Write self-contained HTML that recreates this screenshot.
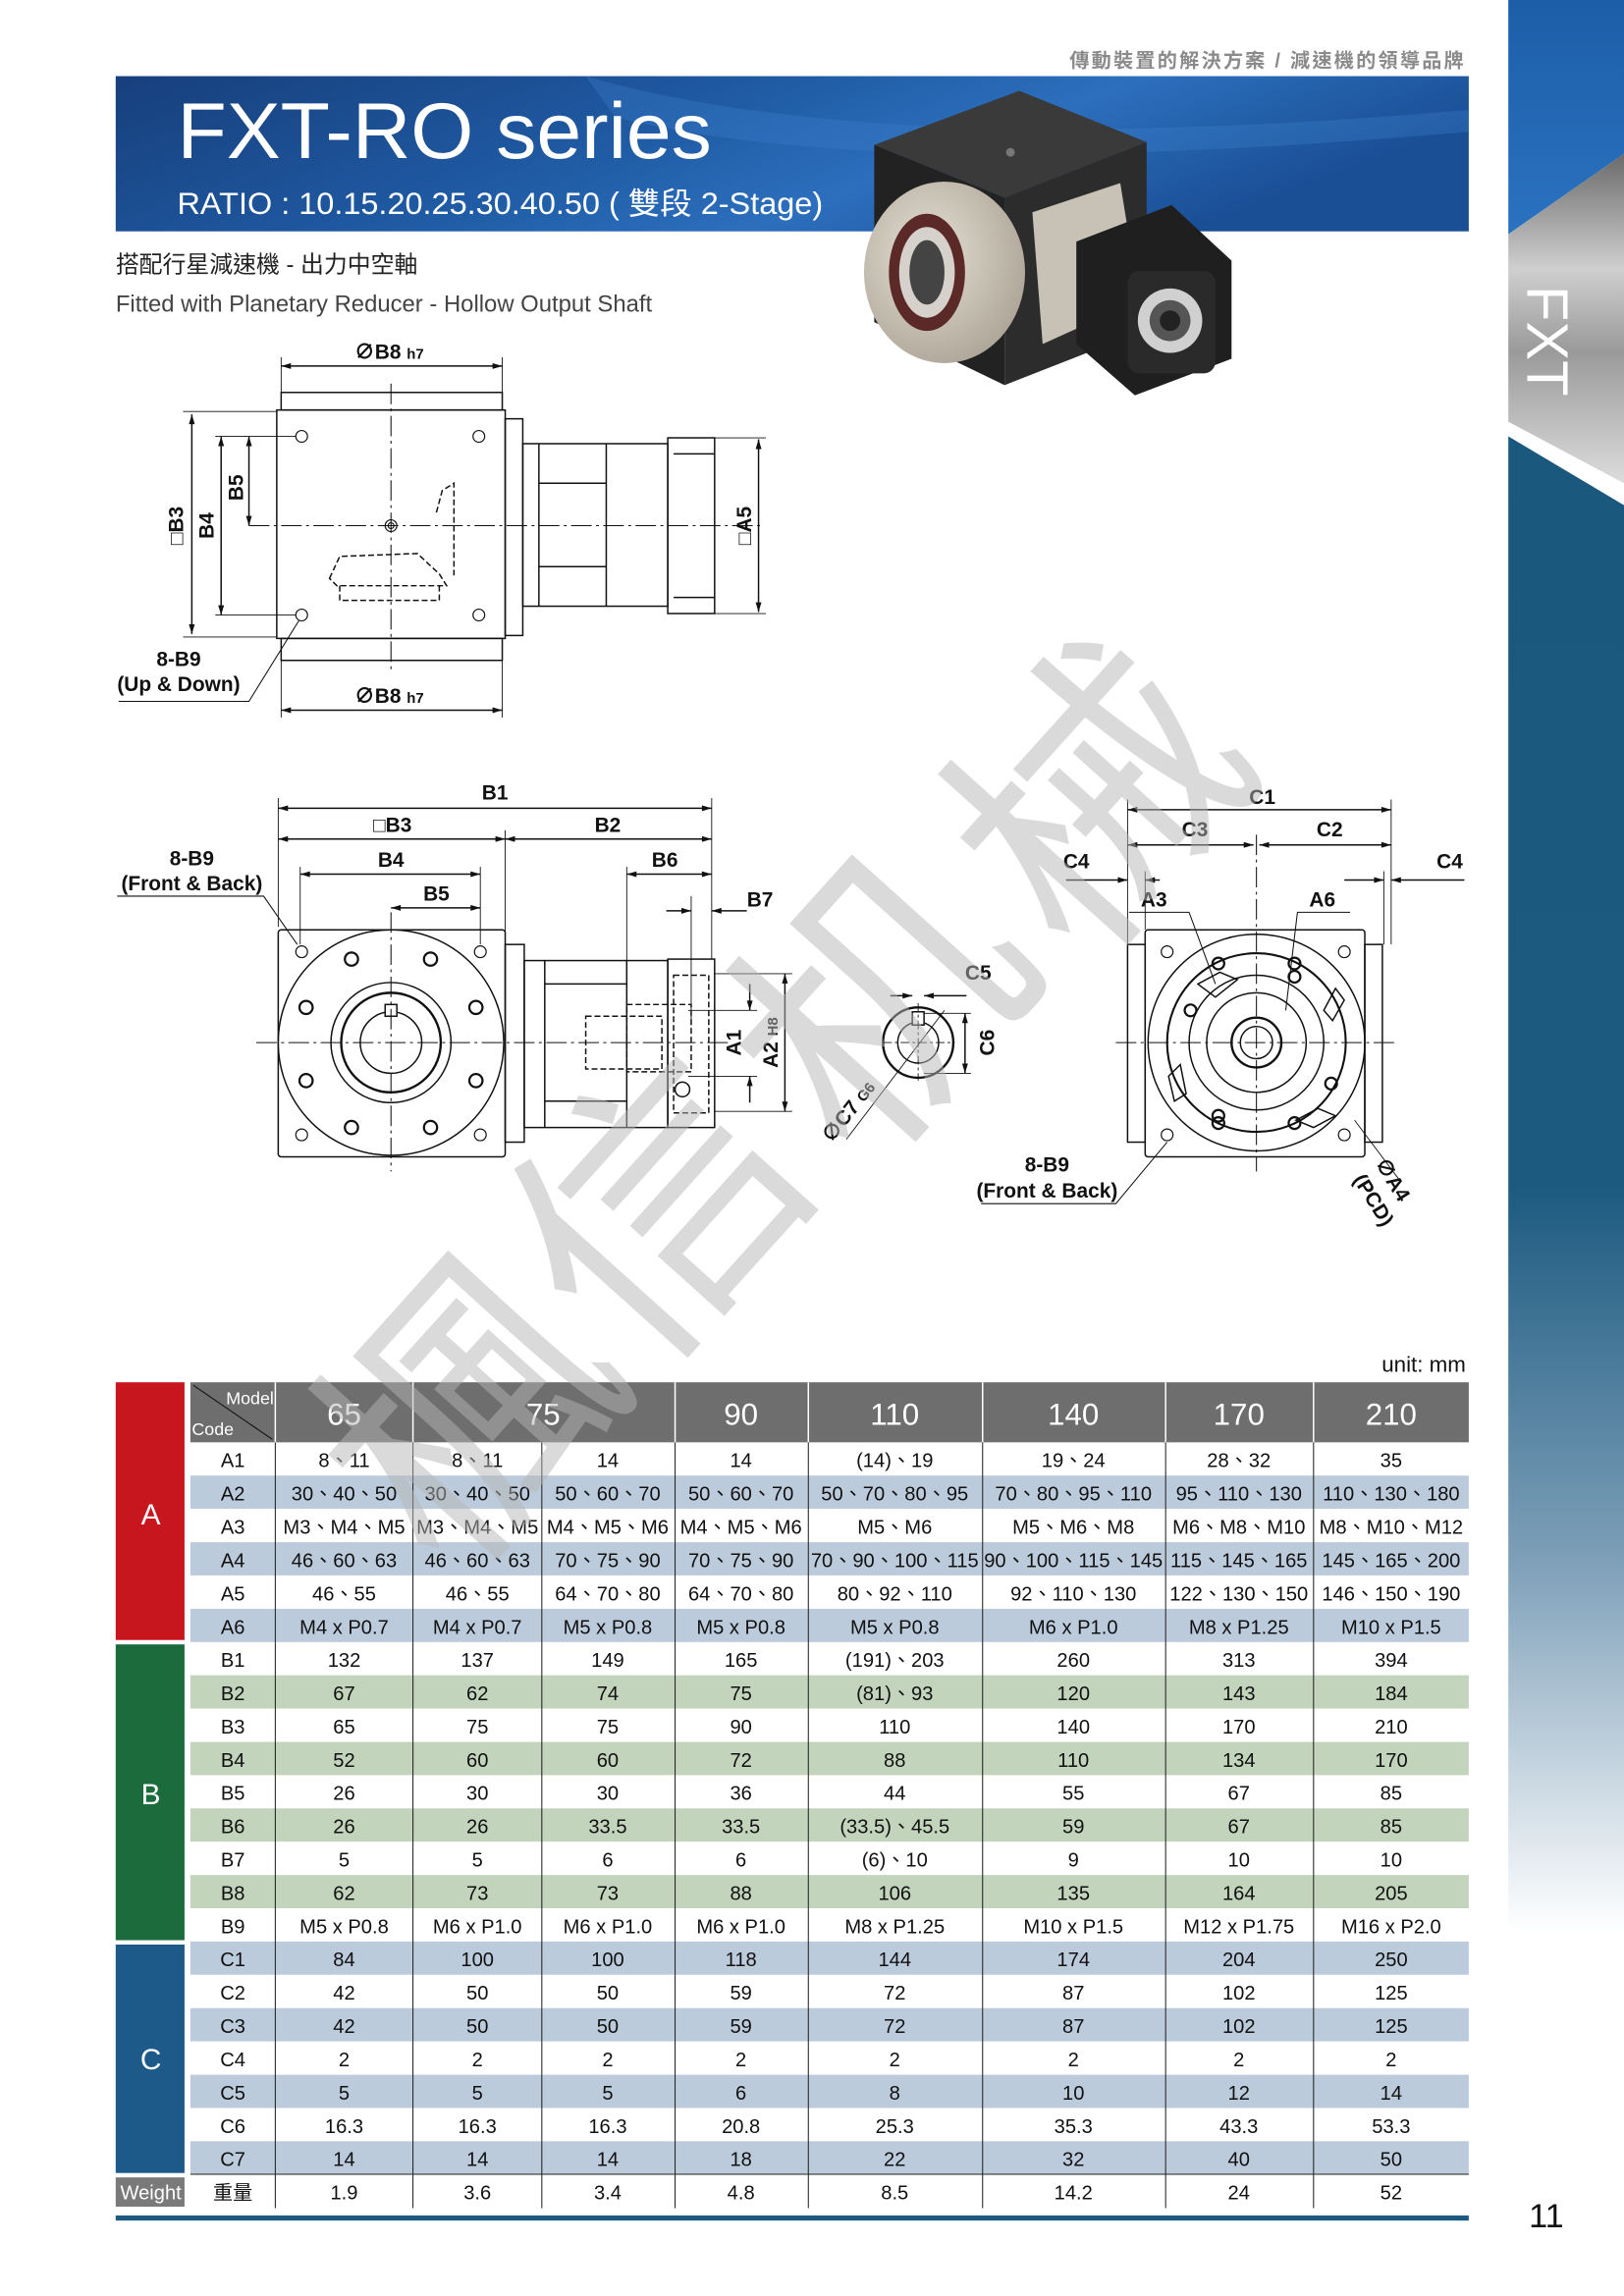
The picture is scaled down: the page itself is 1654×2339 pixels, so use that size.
<!DOCTYPE html>
<html><head><meta charset="utf-8"><style>
html,body{margin:0;padding:0;background:#fff}
svg{display:block}
text{font-family:"Liberation Sans","Noto Sans CJK TC",sans-serif}
.d text{font-weight:bold;font-size:14px;fill:#111}
.t text{font-size:13.5px;fill:#111;text-anchor:middle}
</style></head><body>
<svg width="1654" height="2339" viewBox="0 0 1109 1568" preserveAspectRatio="none" xmlns="http://www.w3.org/2000/svg">
<defs>
<linearGradient id="ban" x1="0" y1="0" x2="1" y2="0.3">
<stop offset="0" stop-color="#173f7c"/><stop offset="0.45" stop-color="#1f5aa3"/><stop offset="0.7" stop-color="#2c6fbd"/><stop offset="1" stop-color="#1a4f95"/></linearGradient>
<linearGradient id="stripTop" x1="0" y1="0" x2="0" y2="1"><stop offset="0" stop-color="#1d5ea8"/><stop offset="1" stop-color="#2a72c0"/></linearGradient>
<linearGradient id="silver" x1="0" y1="0" x2="0" y2="1"><stop offset="0" stop-color="#6a6a6a"/><stop offset="0.35" stop-color="#cfcfcf"/><stop offset="0.6" stop-color="#9a9a9a"/><stop offset="1" stop-color="#dcdcdc"/></linearGradient>
<linearGradient id="stripBot" x1="0" y1="0" x2="0" y2="1"><stop offset="0" stop-color="#1b587e"/><stop offset="0.5" stop-color="#1c5a80"/><stop offset="0.75" stop-color="#7d9fb8"/><stop offset="1" stop-color="#ffffff"/></linearGradient>
<radialGradient id="disc" cx="0.4" cy="0.4" r="0.7"><stop offset="0" stop-color="#e6e0d4"/><stop offset="1" stop-color="#a9a194"/></radialGradient>
<marker id="ar" viewBox="0 0 10 6" refX="10" refY="3" markerWidth="9" markerHeight="4" orient="auto-start-reverse" markerUnits="userSpaceOnUse"><path d="M0,0 L10,3 L0,6z" fill="#111"/></marker>
</defs>

<!-- right strip -->
<rect x="1030" y="0" width="79" height="1568" fill="#fff"/>
<polygon points="1030,0 1109,0 1109,105 1030,160" fill="url(#stripTop)"/>
<polygon points="1030,160 1109,105 1109,330 1030,288" fill="url(#silver)"/>
<polygon points="1030,290 1109,336 1109,345 1030,298" fill="#fff"/>
<polygon points="1030,298 1109,345 1109,1320 1030,1320" fill="url(#stripBot)"/>
<text transform="translate(1043,195) rotate(90)" font-size="40" fill="#fff" style="font-family:'Liberation Sans',sans-serif">FXT</text>

<!-- tagline -->
<text x="1001" y="46" font-size="13.5" font-weight="bold" fill="#8a8a8a" text-anchor="end" letter-spacing="1.5">傳動裝置的解決方案 / 減速機的領導品牌</text>

<!-- banner -->
<rect x="79" y="52" width="924" height="106" fill="url(#ban)"/>
<path d="M400,52 Q600,110 1003,75 L1003,90 Q600,125 420,80z" fill="#3b7fcc" opacity="0.35"/>
<text x="121" y="108" font-size="54" fill="#fff" textLength="365" lengthAdjust="spacingAndGlyphs">FXT-RO series</text>
<text x="121" y="146" font-size="21" fill="#fff" textLength="441" lengthAdjust="spacingAndGlyphs">RATIO : 10.15.20.25.30.40.50 ( 雙段 2-Stage)</text>

<!-- product -->
<g>
<polygon points="597,99 696,62 783,97 686,135" fill="#3a3a3a"/>
<polygon points="597,99 686,135 686,263 597,220" fill="#222"/>
<polygon points="686,135 783,97 783,225 686,263" fill="#2c2c2c"/>
<circle cx="690" cy="104" r="3" fill="#777"/>
<ellipse cx="645" cy="186" rx="55" ry="62" fill="url(#disc)"/>
<ellipse cx="633" cy="186" rx="26" ry="40" fill="#5b2a28"/>
<ellipse cx="633" cy="186" rx="19" ry="31" fill="#d6d2cb"/>
<ellipse cx="633" cy="186" rx="12" ry="22" fill="#444"/>
<polygon points="705,145 765,125 778,205 712,235" fill="#c8c2b6"/>
<polygon points="735,165 800,140 841,178 841,245 775,270 735,235" fill="#1f1f1f"/>
<rect x="770" y="185" width="60" height="70" rx="8" fill="#2a2a2a"/>
<circle cx="799" cy="219" r="22" fill="#d0d0d0"/>
<circle cx="799" cy="219" r="14" fill="#555"/>
<circle cx="799" cy="219" r="7" fill="#222"/>
</g>

<text x="79" y="186" font-size="16" fill="#222">搭配行星減速機 - 出力中空軸</text>
<text x="79" y="213" font-size="16" fill="#444">Fitted with Planetary Reducer - Hollow Output Shaft</text>

<!-- drawing 1 -->
<g class="d" stroke="#111" fill="none" stroke-width="1">
<rect x="192" y="268" width="151" height="12"/>
<rect x="189" y="280" width="156" height="156"/>
<rect x="192" y="436" width="151" height="15"/>
<rect x="345" y="286" width="12" height="148"/>
<rect x="357" y="303" width="99" height="111"/>
<line x1="368" y1="303" x2="368" y2="414"/><line x1="414" y1="303" x2="414" y2="414"/>
<line x1="368" y1="330" x2="414" y2="330"/><line x1="368" y1="387" x2="414" y2="387"/>
<rect x="456" y="299" width="32" height="120"/>
<line x1="460" y1="310" x2="488" y2="310"/><line x1="460" y1="408" x2="488" y2="408"/>
<g stroke-width="0.8">
<circle cx="206" cy="298" r="4"/><circle cx="327" cy="298" r="4"/><circle cx="206" cy="420" r="4"/><circle cx="327" cy="420" r="4"/>
<circle cx="267" cy="359" r="4"/><circle cx="267" cy="359" r="2"/>
</g>
<path d="M225,395 L232,380 L285,378 L300,392 L305,400 L230,400z M232,400 L232,410 L300,410 L300,400" stroke-dasharray="4,2"/>
<path d="M298,350 L302,335 L310,330 L310,395" stroke-dasharray="4,2"/>
<line x1="170" y1="359" x2="520" y2="359" stroke-dasharray="14,3,2,3" stroke-width="0.7"/>
<line x1="267" y1="262" x2="267" y2="460" stroke-dasharray="14,3,2,3" stroke-width="0.7"/>
<line x1="192" y1="250" x2="343" y2="250" marker-start="url(#ar)" marker-end="url(#ar)"/>
<line x1="192" y1="244" x2="192" y2="268" stroke-width="0.6"/><line x1="343" y1="244" x2="343" y2="268" stroke-width="0.6"/>
<line x1="192" y1="485" x2="343" y2="485" marker-start="url(#ar)" marker-end="url(#ar)"/>
<line x1="192" y1="451" x2="192" y2="490" stroke-width="0.6"/><line x1="343" y1="451" x2="343" y2="490" stroke-width="0.6"/>
<line x1="131" y1="283" x2="131" y2="433" marker-start="url(#ar)" marker-end="url(#ar)"/>
<line x1="125" y1="281" x2="189" y2="281" stroke-width="0.6"/><line x1="125" y1="435" x2="189" y2="435" stroke-width="0.6"/>
<line x1="151" y1="298" x2="151" y2="420" marker-start="url(#ar)" marker-end="url(#ar)"/>
<line x1="147" y1="298" x2="202" y2="298" stroke-width="0.6"/><line x1="147" y1="420" x2="202" y2="420" stroke-width="0.6"/>
<line x1="170" y1="298" x2="170" y2="359" marker-start="url(#ar)" marker-end="url(#ar)"/>
<line x1="518" y1="300" x2="518" y2="418" marker-start="url(#ar)" marker-end="url(#ar)"/>
<line x1="488" y1="299" x2="523" y2="299" stroke-width="0.6"/><line x1="488" y1="419" x2="523" y2="419" stroke-width="0.6"/>
<polyline points="81,479 170,479 204,424" stroke-width="0.7"/>
</g>
<g class="d">
<text x="242" y="245" font-size="13">∅B8 <tspan font-size="10">h7</tspan></text>
<text x="242" y="480" font-size="13">∅B8 <tspan font-size="10">h7</tspan></text>
<text transform="translate(125,359) rotate(-90)" text-anchor="middle">□B3</text>
<text transform="translate(146,359) rotate(-90)" text-anchor="middle">B4</text>
<text transform="translate(166,333) rotate(-90)" text-anchor="middle">B5</text>
<text transform="translate(513,359) rotate(-90)" text-anchor="middle">□A5</text>
<text x="122" y="455" text-anchor="middle">8-B9</text>
<text x="122" y="472" text-anchor="middle" font-size="12.5">(Up &amp; Down)</text>
</g>

<!-- drawing 2 -->
<g class="d" stroke="#111" fill="none" stroke-width="1">
<rect x="190" y="635" width="155" height="155" rx="2"/>
<rect x="345" y="645" width="13" height="135"/>
<rect x="358" y="656" width="98" height="114"/>
<line x1="372" y1="656" x2="372" y2="770"/><line x1="428" y1="656" x2="428" y2="770"/>
<line x1="372" y1="672" x2="428" y2="672"/><line x1="372" y1="752" x2="428" y2="752"/>
<rect x="456" y="655" width="32" height="115"/>
<rect x="460" y="666" width="24" height="94" stroke-dasharray="4,2"/>
<rect x="400" y="694" width="52" height="36" stroke-dasharray="4,2"/>
<rect x="428" y="686" width="44" height="46" stroke-dasharray="4,2"/>
<circle cx="466" cy="744" r="5"/>
<ellipse cx="267" cy="712" rx="77" ry="77"/>
<circle cx="267" cy="712" r="41"/><circle cx="267" cy="712" r="34" stroke-width="1.6"/><circle cx="267" cy="712" r="21"/>
<rect x="263" y="686" width="8" height="8" fill="#fff"/>
<g stroke-width="0.8"><circle cx="206" cy="650" r="4"/><circle cx="328" cy="650" r="4"/><circle cx="206" cy="775" r="4"/><circle cx="328" cy="775" r="4"/></g>
<g stroke-width="1.5">
<circle cx="240" cy="655" r="4.5"/><circle cx="294" cy="655" r="4.5"/><circle cx="209" cy="688" r="4.5"/><circle cx="325" cy="688" r="4.5"/>
<circle cx="209" cy="738" r="4.5"/><circle cx="325" cy="738" r="4.5"/><circle cx="240" cy="770" r="4.5"/><circle cx="294" cy="770" r="4.5"/>
</g>
<line x1="175" y1="712" x2="498" y2="712" stroke-dasharray="14,3,2,3" stroke-width="0.7"/>
<line x1="267" y1="623" x2="267" y2="800" stroke-dasharray="14,3,2,3" stroke-width="0.7"/>
<line x1="190" y1="552" x2="486" y2="552" marker-start="url(#ar)" marker-end="url(#ar)"/>
<line x1="190" y1="573" x2="345" y2="573" marker-start="url(#ar)" marker-end="url(#ar)"/>
<line x1="345" y1="573" x2="486" y2="573" marker-start="url(#ar)" marker-end="url(#ar)"/>
<line x1="205" y1="597" x2="328" y2="597" marker-start="url(#ar)" marker-end="url(#ar)"/>
<line x1="267" y1="620" x2="328" y2="620" marker-start="url(#ar)" marker-end="url(#ar)"/>
<line x1="428" y1="597" x2="486" y2="597" marker-start="url(#ar)" marker-end="url(#ar)"/>
<line x1="455" y1="622" x2="472" y2="622" marker-end="url(#ar)"/><line x1="510" y1="622" x2="486" y2="622" marker-end="url(#ar)"/>
<g stroke-width="0.6">
<line x1="190" y1="545" x2="190" y2="633"/><line x1="486" y1="545" x2="486" y2="655"/><line x1="345" y1="567" x2="345" y2="643"/>
<line x1="205" y1="592" x2="205" y2="645"/><line x1="328" y1="592" x2="328" y2="645"/><line x1="428" y1="592" x2="428" y2="690"/>
<line x1="472" y1="612" x2="472" y2="700"/>
<line x1="488" y1="665" x2="541" y2="665"/><line x1="488" y1="759" x2="541" y2="759"/>
<line x1="470" y1="690" x2="517" y2="690"/><line x1="470" y1="735" x2="517" y2="735"/>
</g>
<line x1="512" y1="672" x2="512" y2="690" marker-end="url(#ar)"/><line x1="512" y1="753" x2="512" y2="735" marker-end="url(#ar)"/>
<line x1="536" y1="665" x2="536" y2="759" marker-start="url(#ar)" marker-end="url(#ar)"/>
<polyline points="80,612 180,612 203,645" stroke-width="0.7"/>
<circle cx="627" cy="712" r="24" stroke-width="1.6"/><circle cx="627" cy="712" r="14"/>
<rect x="623" y="691" width="8" height="9" fill="#fff"/>
<line x1="603" y1="712" x2="652" y2="712" stroke-dasharray="6,2,2,2" stroke-width="0.6"/>
<line x1="627" y1="685" x2="627" y2="738" stroke-dasharray="6,2,2,2" stroke-width="0.6"/>
<line x1="608" y1="680" x2="623" y2="680" marker-end="url(#ar)"/><line x1="660" y1="680" x2="631" y2="680" marker-end="url(#ar)"/>
<line x1="631" y1="692" x2="663" y2="692" stroke-width="0.6"/><line x1="631" y1="733" x2="663" y2="733" stroke-width="0.6"/>
<line x1="659" y1="692" x2="659" y2="733" marker-start="url(#ar)" marker-end="url(#ar)"/>
<line x1="578" y1="778" x2="645" y2="690" stroke-width="0.6"/>
</g>
<g class="d">
<text x="338" y="546" text-anchor="middle">B1</text>
<text x="268" y="568" text-anchor="middle">□B3</text>
<text x="415" y="568" text-anchor="middle">B2</text>
<text x="267" y="592" text-anchor="middle">B4</text>
<text x="298" y="615" text-anchor="middle">B5</text>
<text x="454" y="592" text-anchor="middle">B6</text>
<text x="519" y="619" text-anchor="middle">B7</text>
<text x="131" y="591" text-anchor="middle">8-B9</text>
<text x="131" y="608" text-anchor="middle" font-size="12.5">(Front &amp; Back)</text>
<text transform="translate(506,712) rotate(-90)" text-anchor="middle">A1</text>
<text transform="translate(531,712) rotate(-90)" text-anchor="middle">A2 <tspan font-size="10">H8</tspan></text>
<text x="668" y="669" text-anchor="middle">C5</text>
<text transform="translate(679,712) rotate(-90)" text-anchor="middle">C6</text>
<text transform="translate(583,762) rotate(-52)" text-anchor="middle">∅C7 <tspan font-size="10">G6</tspan></text>
</g>

<!-- drawing 3 -->
<g class="d" stroke="#111" fill="none" stroke-width="1">
<rect x="770" y="645" width="12" height="135"/><rect x="932" y="645" width="12" height="135"/>
<rect x="782" y="635" width="150" height="155" rx="2"/>
<circle cx="858" cy="712" r="74"/><circle cx="858" cy="712" r="61" stroke-width="1.4"/>
<circle cx="858" cy="712" r="46"/><circle cx="858" cy="712" r="34"/><circle cx="858" cy="712" r="17" stroke-width="1.6"/><circle cx="858" cy="712" r="11"/>
<g stroke-width="0.8"><circle cx="797" cy="650" r="4"/><circle cx="918" cy="650" r="4"/><circle cx="797" cy="775" r="4"/><circle cx="918" cy="775" r="4"/></g>
<g stroke-width="1.5"><circle cx="832" cy="658" r="4"/><circle cx="884" cy="658" r="4"/><circle cx="884" cy="667" r="4"/><circle cx="813" cy="690" r="4"/><circle cx="909" cy="740" r="4"/><circle cx="832" cy="762" r="4"/><circle cx="832" cy="767" r="4"/><circle cx="884" cy="767" r="4"/></g>
<path d="M818,672 l15,-8 l12,5 l-15,12z M904,690 l8,-15 l6,8 l-8,14z M798,735 l8,-8 l4,20 l-8,5z M885,765 l15,-8 l12,5 l-15,8z"/>
<line x1="762" y1="712" x2="955" y2="712" stroke-dasharray="14,3,2,3" stroke-width="0.7"/>
<line x1="858" y1="570" x2="858" y2="800" stroke-dasharray="14,3,2,3" stroke-width="0.7"/>
<line x1="770" y1="553" x2="950" y2="553" marker-start="url(#ar)" marker-end="url(#ar)"/>
<line x1="770" y1="577" x2="856" y2="577" marker-start="url(#ar)" marker-end="url(#ar)"/>
<line x1="860" y1="577" x2="950" y2="577" marker-start="url(#ar)" marker-end="url(#ar)"/>
<g stroke-width="0.6"><line x1="770" y1="546" x2="770" y2="645"/><line x1="950" y1="546" x2="950" y2="645"/><line x1="782" y1="595" x2="782" y2="635"/><line x1="945" y1="595" x2="945" y2="645"/></g>
<line x1="728" y1="601" x2="770" y2="601" marker-end="url(#ar)"/><line x1="792" y1="601" x2="782" y2="601" marker-end="url(#ar)"/>
<line x1="918" y1="601" x2="945" y2="601" marker-end="url(#ar)"/><line x1="1000" y1="601" x2="950" y2="601" marker-end="url(#ar)"/>
<polyline points="771,623 812,623 830,672" stroke-width="0.7"/>
<polyline points="922,623 886,623 878,690" stroke-width="0.7"/>
<polyline points="670,822 762,822 797,780" stroke-width="0.7"/>
<line x1="925" y1="765" x2="955" y2="805" stroke-width="0.6"/>
</g>
<g class="d">
<text x="862" y="549" text-anchor="middle">C1</text>
<text x="816" y="571" text-anchor="middle">C3</text>
<text x="908" y="571" text-anchor="middle">C2</text>
<text x="735" y="593" text-anchor="middle">C4</text>
<text x="990" y="593" text-anchor="middle">C4</text>
<text x="788" y="619" text-anchor="middle">A3</text>
<text x="903" y="619" text-anchor="middle">A6</text>
<text x="715" y="800" text-anchor="middle">8-B9</text>
<text x="715" y="818" text-anchor="middle" font-size="12.5">(Front &amp; Back)</text>
<text transform="translate(947,808) rotate(58)" text-anchor="middle">∅A4</text>
<text transform="translate(934,822) rotate(58)" text-anchor="middle" font-size="12.5">(PCD)</text>
</g>

<!-- TABLE -->
<text x="1001" y="937" font-size="15" fill="#111" text-anchor="end">unit: mm</text>
<rect x="130" y="944" width="873" height="41" fill="#6e6e6e"/>
<g stroke="#fff" stroke-width="1"><line x1="188" y1="944" x2="188" y2="985"/><line x1="282" y1="944" x2="282" y2="985"/><line x1="461" y1="944" x2="461" y2="985"/><line x1="552" y1="944" x2="552" y2="985"/><line x1="671" y1="944" x2="671" y2="985"/><line x1="796" y1="944" x2="796" y2="985"/><line x1="897" y1="944" x2="897" y2="985"/>
<line x1="132" y1="946" x2="186" y2="983" stroke="#111" stroke-width="0.7"/></g>
<g fill="#fff" font-size="21" text-anchor="middle">
<text x="235" y="973">65</text><text x="371" y="973">75</text><text x="506" y="973">90</text><text x="611" y="973">110</text><text x="733" y="973">140</text><text x="846" y="973">170</text><text x="950" y="973">210</text></g>
<text x="187" y="959" font-size="12" fill="#fff" text-anchor="end">Model</text>
<text x="131" y="980" font-size="12" fill="#fff">Code</text>

<rect x="79" y="944" width="47" height="176" fill="#c8161e"/>
<rect x="79" y="1123" width="47" height="202" fill="#1b6b3d"/>
<rect x="79" y="1328" width="47" height="156" fill="#1d5a8a"/>
<rect x="79" y="1487" width="47" height="20" fill="#7a7a7a"/>
<g fill="#fff" font-size="20" text-anchor="middle"><text x="103" y="1041">A</text><text x="103" y="1232">B</text><text x="103" y="1413">C</text></g>
<text x="103" y="1502" font-size="13.5" fill="#fff" text-anchor="middle">Weight</text>

<g fill="#bccbdc">
<rect x="130" y="1007.7" width="873" height="22.7"/><rect x="130" y="1053.2" width="873" height="22.7"/><rect x="130" y="1098.7" width="873" height="22.7"/>
<rect x="130" y="1325.9" width="873" height="22.7"/><rect x="130" y="1371.4" width="873" height="22.7"/><rect x="130" y="1416.9" width="873" height="22.7"/><rect x="130" y="1462.3" width="873" height="22.7"/>
</g>
<g fill="#c3d4bc">
<rect x="130" y="1144.1" width="873" height="22.7"/><rect x="130" y="1189.6" width="873" height="22.7"/><rect x="130" y="1235" width="873" height="22.7"/><rect x="130" y="1280.5" width="873" height="22.7"/>
</g>
<g stroke="#222" stroke-width="0.7">
<line x1="188" y1="985" x2="188" y2="1508"/><line x1="282" y1="985" x2="282" y2="1508"/><line x1="370" y1="985" x2="370" y2="1508"/><line x1="461" y1="985" x2="461" y2="1508"/><line x1="552" y1="985" x2="552" y2="1508"/><line x1="671" y1="985" x2="671" y2="1508"/><line x1="796" y1="985" x2="796" y2="1508"/><line x1="897" y1="985" x2="897" y2="1508"/>
<line x1="130" y1="1484.9" x2="1003" y2="1484.9"/>
</g>
<rect x="79" y="1513" width="924" height="3.5" fill="#1d5a80"/>
<text x="1056" y="1521" font-size="23" fill="#111" text-anchor="middle">11</text>

<g class="t">
<g transform="translate(0,985)"><text x="159" y="17">A1</text><text x="235" y="17">8、11</text><text x="326" y="17">8、11</text><text x="415" y="17">14</text><text x="506" y="17">14</text><text x="611" y="17">(14)、19</text><text x="733" y="17">19、24</text><text x="846" y="17">28、32</text><text x="950" y="17">35</text></g>
<g transform="translate(0,1007.7)"><text x="159" y="17">A2</text><text x="235" y="17">30、40、50</text><text x="326" y="17">30、40、50</text><text x="415" y="17">50、60、70</text><text x="506" y="17">50、60、70</text><text x="611" y="17">50、70、80、95</text><text x="733" y="17">70、80、95、110</text><text x="846" y="17">95、110、130</text><text x="950" y="17">110、130、180</text></g>
<g transform="translate(0,1030.5)"><text x="159" y="17">A3</text><text x="235" y="17">M3、M4、M5</text><text x="326" y="17">M3、M4、M5</text><text x="415" y="17">M4、M5、M6</text><text x="506" y="17">M4、M5、M6</text><text x="611" y="17">M5、M6</text><text x="733" y="17">M5、M6、M8</text><text x="846" y="17">M6、M8、M10</text><text x="950" y="17">M8、M10、M12</text></g>
<g transform="translate(0,1053.2)"><text x="159" y="17">A4</text><text x="235" y="17">46、60、63</text><text x="326" y="17">46、60、63</text><text x="415" y="17">70、75、90</text><text x="506" y="17">70、75、90</text><text x="611" y="17">70、90、100、115</text><text x="733" y="17">90、100、115、145</text><text x="846" y="17">115、145、165</text><text x="950" y="17">145、165、200</text></g>
<g transform="translate(0,1075.9)"><text x="159" y="17">A5</text><text x="235" y="17">46、55</text><text x="326" y="17">46、55</text><text x="415" y="17">64、70、80</text><text x="506" y="17">64、70、80</text><text x="611" y="17">80、92、110</text><text x="733" y="17">92、110、130</text><text x="846" y="17">122、130、150</text><text x="950" y="17">146、150、190</text></g>
<g transform="translate(0,1098.7)"><text x="159" y="17">A6</text><text x="235" y="17">M4 x P0.7</text><text x="326" y="17">M4 x P0.7</text><text x="415" y="17">M5 x P0.8</text><text x="506" y="17">M5 x P0.8</text><text x="611" y="17">M5 x P0.8</text><text x="733" y="17">M6 x P1.0</text><text x="846" y="17">M8 x P1.25</text><text x="950" y="17">M10 x P1.5</text></g>
<g transform="translate(0,1121.4)"><text x="159" y="17">B1</text><text x="235" y="17">132</text><text x="326" y="17">137</text><text x="415" y="17">149</text><text x="506" y="17">165</text><text x="611" y="17">(191)、203</text><text x="733" y="17">260</text><text x="846" y="17">313</text><text x="950" y="17">394</text></g>
<g transform="translate(0,1144.1)"><text x="159" y="17">B2</text><text x="235" y="17">67</text><text x="326" y="17">62</text><text x="415" y="17">74</text><text x="506" y="17">75</text><text x="611" y="17">(81)、93</text><text x="733" y="17">120</text><text x="846" y="17">143</text><text x="950" y="17">184</text></g>
<g transform="translate(0,1166.8)"><text x="159" y="17">B3</text><text x="235" y="17">65</text><text x="326" y="17">75</text><text x="415" y="17">75</text><text x="506" y="17">90</text><text x="611" y="17">110</text><text x="733" y="17">140</text><text x="846" y="17">170</text><text x="950" y="17">210</text></g>
<g transform="translate(0,1189.6)"><text x="159" y="17">B4</text><text x="235" y="17">52</text><text x="326" y="17">60</text><text x="415" y="17">60</text><text x="506" y="17">72</text><text x="611" y="17">88</text><text x="733" y="17">110</text><text x="846" y="17">134</text><text x="950" y="17">170</text></g>
<g transform="translate(0,1212.3)"><text x="159" y="17">B5</text><text x="235" y="17">26</text><text x="326" y="17">30</text><text x="415" y="17">30</text><text x="506" y="17">36</text><text x="611" y="17">44</text><text x="733" y="17">55</text><text x="846" y="17">67</text><text x="950" y="17">85</text></g>
<g transform="translate(0,1235)"><text x="159" y="17">B6</text><text x="235" y="17">26</text><text x="326" y="17">26</text><text x="415" y="17">33.5</text><text x="506" y="17">33.5</text><text x="611" y="17">(33.5)、45.5</text><text x="733" y="17">59</text><text x="846" y="17">67</text><text x="950" y="17">85</text></g>
<g transform="translate(0,1257.8)"><text x="159" y="17">B7</text><text x="235" y="17">5</text><text x="326" y="17">5</text><text x="415" y="17">6</text><text x="506" y="17">6</text><text x="611" y="17">(6)、10</text><text x="733" y="17">9</text><text x="846" y="17">10</text><text x="950" y="17">10</text></g>
<g transform="translate(0,1280.5)"><text x="159" y="17">B8</text><text x="235" y="17">62</text><text x="326" y="17">73</text><text x="415" y="17">73</text><text x="506" y="17">88</text><text x="611" y="17">106</text><text x="733" y="17">135</text><text x="846" y="17">164</text><text x="950" y="17">205</text></g>
<g transform="translate(0,1303.2)"><text x="159" y="17">B9</text><text x="235" y="17">M5 x P0.8</text><text x="326" y="17">M6 x P1.0</text><text x="415" y="17">M6 x P1.0</text><text x="506" y="17">M6 x P1.0</text><text x="611" y="17">M8 x P1.25</text><text x="733" y="17">M10 x P1.5</text><text x="846" y="17">M12 x P1.75</text><text x="950" y="17">M16 x P2.0</text></g>
<g transform="translate(0,1325.9)"><text x="159" y="17">C1</text><text x="235" y="17">84</text><text x="326" y="17">100</text><text x="415" y="17">100</text><text x="506" y="17">118</text><text x="611" y="17">144</text><text x="733" y="17">174</text><text x="846" y="17">204</text><text x="950" y="17">250</text></g>
<g transform="translate(0,1348.7)"><text x="159" y="17">C2</text><text x="235" y="17">42</text><text x="326" y="17">50</text><text x="415" y="17">50</text><text x="506" y="17">59</text><text x="611" y="17">72</text><text x="733" y="17">87</text><text x="846" y="17">102</text><text x="950" y="17">125</text></g>
<g transform="translate(0,1371.4)"><text x="159" y="17">C3</text><text x="235" y="17">42</text><text x="326" y="17">50</text><text x="415" y="17">50</text><text x="506" y="17">59</text><text x="611" y="17">72</text><text x="733" y="17">87</text><text x="846" y="17">102</text><text x="950" y="17">125</text></g>
<g transform="translate(0,1394.1)"><text x="159" y="17">C4</text><text x="235" y="17">2</text><text x="326" y="17">2</text><text x="415" y="17">2</text><text x="506" y="17">2</text><text x="611" y="17">2</text><text x="733" y="17">2</text><text x="846" y="17">2</text><text x="950" y="17">2</text></g>
<g transform="translate(0,1416.9)"><text x="159" y="17">C5</text><text x="235" y="17">5</text><text x="326" y="17">5</text><text x="415" y="17">5</text><text x="506" y="17">6</text><text x="611" y="17">8</text><text x="733" y="17">10</text><text x="846" y="17">12</text><text x="950" y="17">14</text></g>
<g transform="translate(0,1439.6)"><text x="159" y="17">C6</text><text x="235" y="17">16.3</text><text x="326" y="17">16.3</text><text x="415" y="17">16.3</text><text x="506" y="17">20.8</text><text x="611" y="17">25.3</text><text x="733" y="17">35.3</text><text x="846" y="17">43.3</text><text x="950" y="17">53.3</text></g>
<g transform="translate(0,1462.3)"><text x="159" y="17">C7</text><text x="235" y="17">14</text><text x="326" y="17">14</text><text x="415" y="17">14</text><text x="506" y="17">18</text><text x="611" y="17">22</text><text x="733" y="17">32</text><text x="846" y="17">40</text><text x="950" y="17">50</text></g>
<g transform="translate(0,1485)"><text x="159" y="17">重量</text><text x="235" y="17">1.9</text><text x="326" y="17">3.6</text><text x="415" y="17">3.4</text><text x="506" y="17">4.8</text><text x="611" y="17">8.5</text><text x="733" y="17">14.2</text><text x="846" y="17">24</text><text x="950" y="17">52</text></g>
</g>

<!-- watermark -->
<g fill="#b5b5b5" opacity="0.5" font-size="190" style="font-family:'Noto Sans CJK TC',sans-serif" text-anchor="middle">
<text transform="translate(370,1010) rotate(-48)">楓</text>
<text transform="translate(500,870) rotate(-48)">信</text>
<text transform="translate(650,730) rotate(-48)">机</text>
<text transform="translate(800,590) rotate(-48)">械</text>
</g>
</svg>
</body></html>
